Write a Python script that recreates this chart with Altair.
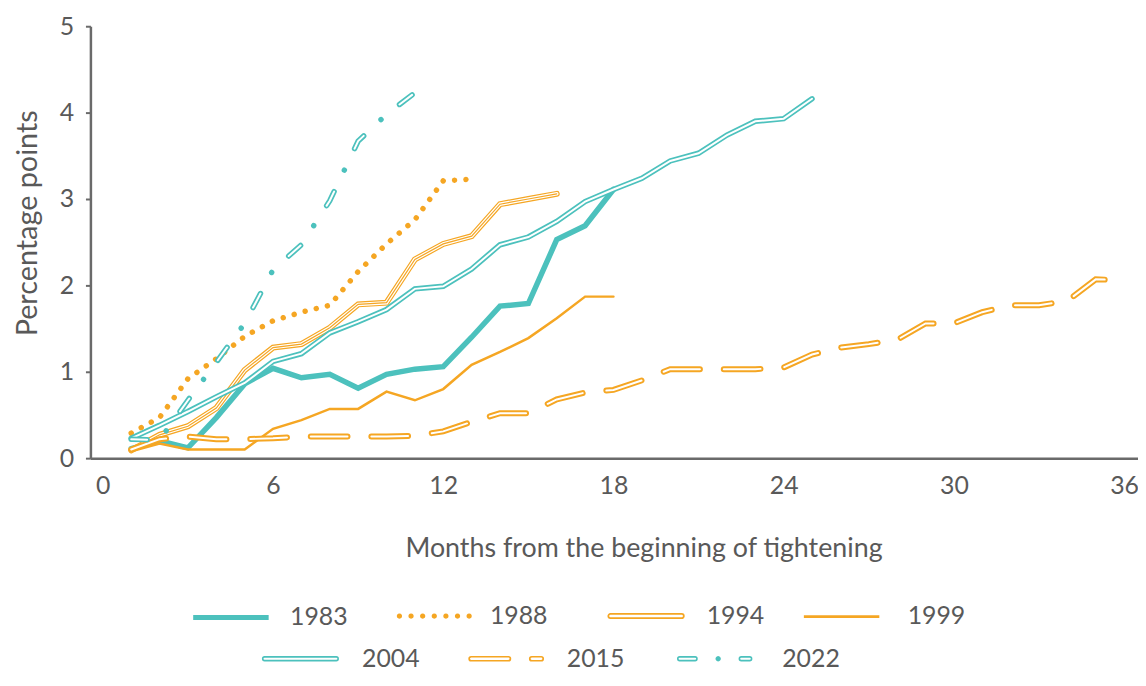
import math
import altair as alt
import pandas as pd

# ---------------- data ----------------
SERIES = ["1983", "1988", "1994", "1999", "2004", "2015", "2022"]

v1983 = [0.11, 0.20, 0.12, 0.47, 0.86, 1.04, 0.93, 0.97, 0.81, 0.97, 1.03, 1.06,
         1.40, 1.76, 1.79, 2.53, 2.69, 3.11]
v1988 = [0.29, 0.47, 0.92, 1.15, 1.41, 1.59, 1.69, 1.77, 2.16, 2.48, 2.76, 3.21, 3.23]
v1994 = [0.09, 0.27, 0.37, 0.58, 1.02, 1.28, 1.32, 1.51, 1.78, 1.80, 2.30, 2.48,
         2.57, 2.94, 3.00, 3.06]
v1999 = [0.08, 0.17, 0.10, 0.10, 0.10, 0.34, 0.44, 0.57, 0.57, 0.77, 0.67, 0.80,
         1.08, 1.23, 1.39, 1.62, 1.87, 1.87]
v2004 = [0.23, 0.38, 0.54, 0.71, 0.87, 1.12, 1.21, 1.45, 1.58, 1.72, 1.96, 1.99,
         2.19, 2.47, 2.56, 2.74, 2.97, 3.11, 3.24, 3.44, 3.53, 3.74, 3.90, 3.93, 4.16]
v2015 = [0.10, 0.22, 0.25, 0.22, 0.22, 0.23, 0.25, 0.25, 0.25, 0.25, 0.26, 0.31,
         0.42, 0.52, 0.52, 0.68, 0.76, 0.79, 0.90, 1.03, 1.03, 1.03, 1.03, 1.05,
         1.20, 1.28, 1.32, 1.37, 1.56, 1.56, 1.69, 1.77, 1.77, 1.82, 2.07, 2.06]
v2022 = [0.22, 0.21, 0.67, 1.11, 1.56, 2.18, 2.47, 2.98, 3.67, 3.98, 4.23]

X_TICKS = [0, 6, 12, 18, 24, 30, 36]
Y_TICKS = [0, 1, 2, 3, 4, 5]

values = {"1983": v1983, "1988": v1988, "1994": v1994, "1999": v1999,
          "2004": v2004, "2015": v2015, "2022": v2022}
rows = []
for s in SERIES:
    for i, v in enumerate(values[s]):
        rows.append({"series": s, "month": i + 1, "value": v})
df = pd.DataFrame(rows)

# ---------------- styles ----------------
TEAL = "#4CC1BD"
ORANGE = "#F5A623"
GREY = "#595959"
AXIS_GREY = "#6a6a6a"
FONT = "Lato"
FS = 25

X = alt.X("month:Q",
          scale=alt.Scale(domain=[-0.4375, 36.49], nice=False, zero=False),
          axis=alt.Axis(values=X_TICKS, ticks=False, grid=False, labelPadding=16,
                        title="Months from the beginning of tightening",
                        titleFontSize=27, titlePadding=37, titleX=557,
                        domainColor=AXIS_GREY, domainWidth=2.5))
Y = alt.Y("value:Q",
          scale=alt.Scale(domain=[0, 5], nice=False),
          axis=alt.Axis(values=Y_TICKS, grid=False, tickSize=5, tickColor=AXIS_GREY,
                        tickWidth=2, labelPadding=12, title="Percentage points",
                        titleFontSize=29, titlePadding=17, titleY=198,
                        domainColor=AXIS_GREY, domainWidth=2.5))


def draw(s, color, width, dash=None):
    kw = dict(color=color, strokeWidth=width, strokeCap="round")
    if dash is not None:
        kw["strokeDash"] = dash
    return alt.Chart(df[df.series == s]).mark_line(**kw).encode(x=X, y=Y)


# ---- legend symbol shapes (unit box -1..1 = 76 px) ----
def capsule(x0, x1, h):
    return (f"M{x0},{-h}H{x1}A{h},{h} 0 0 1 {x1},{h}H{x0}"
            f"A{h},{h} 0 0 1 {x0},{-h}Z")


def poly_dot(c, r, n=12):
    pts = [(c + r * math.cos(2 * math.pi * k / n), r * math.sin(2 * math.pi * k / n))
           for k in range(n)]
    return "M" + "L".join(f"{x:.4f},{y:.4f}" for x, y in pts) + "Z"


STEP = 11.7 / 38
SYM_LINE = "M-1,0H1"
SYM_DOTS = "".join(poly_dot(-0.9237 + i * STEP, 0.05) for i in range(7))
SYM_DOUBLE94 = capsule(-0.945, 0.945, 0.055)
SYM_DOUBLE04 = capsule(-0.95, 0.95, 0.05)
SYM_2015 = capsule(-0.928, 0.059, 0.053) + capsule(0.678, 0.928, 0.053)
SYM_2022 = (capsule(-0.928, -0.52, 0.05) + poly_dot(0.092, 0.02) + poly_dot(0.092, 0.05)
            + capsule(0.704, 0.928, 0.05))


def legend_layer(s, color, sym, sw, lx, ly, offset, fill="white"):
    leg = alt.Legend(orient="none", legendX=lx, legendY=ly, direction="horizontal",
                     title=None, symbolType=sym, symbolSize=5776,
                     symbolStrokeWidth=sw, symbolFillColor=fill,
                     labelFontSize=FS, labelFont=FONT, labelColor=GREY,
                     labelOffset=offset, padding=0)
    return (alt.Chart(df[df.series == s])
            .transform_filter("datum.month < 0")
            .mark_line(strokeWidth=sw)
            .encode(x=X, y=Y,
                    color=alt.Color("series:N", scale=alt.Scale(domain=[s], range=[color]),
                                    legend=leg)))


ROW1, ROW2 = 555, 598

layers = [
    draw("1983", TEAL, 5.5),
    draw("1988", ORANGE, 5.5, [0.01, 11.5]),
    draw("1994", ORANGE, 6),
    draw("1994", "white", 3.6),
    draw("1994", ORANGE, 1.2),
    draw("1999", ORANGE, 2.5),
    draw("2004", TEAL, 5.5),
    draw("2004", "white", 2),
    draw("2015", ORANGE, 6, [37, 24]),
    draw("2015", "white", 2, [37, 24]),
    draw("2022", TEAL, 5.5, [16, 24, 0.01, 24]),
    draw("2022", "white", 2, [16, 48.01]),
    legend_layer("1983", TEAL, SYM_LINE, 5, 101, ROW1, 19),
    legend_layer("1988", ORANGE, SYM_DOTS, 1.5, 307.3, ROW1, 17, fill=ORANGE),
    legend_layer("1994", ORANGE, SYM_DOUBLE94, 1.8, 520.6, ROW1, 22),
    legend_layer("1999", ORANGE, SYM_LINE, 2.7, 717, ROW1, 27),
    legend_layer("2004", TEAL, SYM_DOUBLE04, 1.6, 172.5, ROW2, 23),
    legend_layer("2015", ORANGE, SYM_2015, 1.7, 379.7, ROW2, 22),
    legend_layer("2022", TEAL, SYM_2022, 1.6, 589.7, ROW2, 29),
]

chart = alt.layer(*layers).resolve_scale(color="independent").properties(
    width=1055, height=435,
    autosize=alt.AutoSizeParams(type="none"),
    padding={"left": 83, "top": 16, "right": 0, "bottom": 214},
).configure_view(stroke=None).configure_axis(
    labelFont=FONT, labelFontSize=FS, labelColor=GREY,
    titleFont=FONT, titleColor=GREY, titleFontWeight="normal",
)

chart.save("out.html", embed_options={"renderer": "svg", "actions": False})
